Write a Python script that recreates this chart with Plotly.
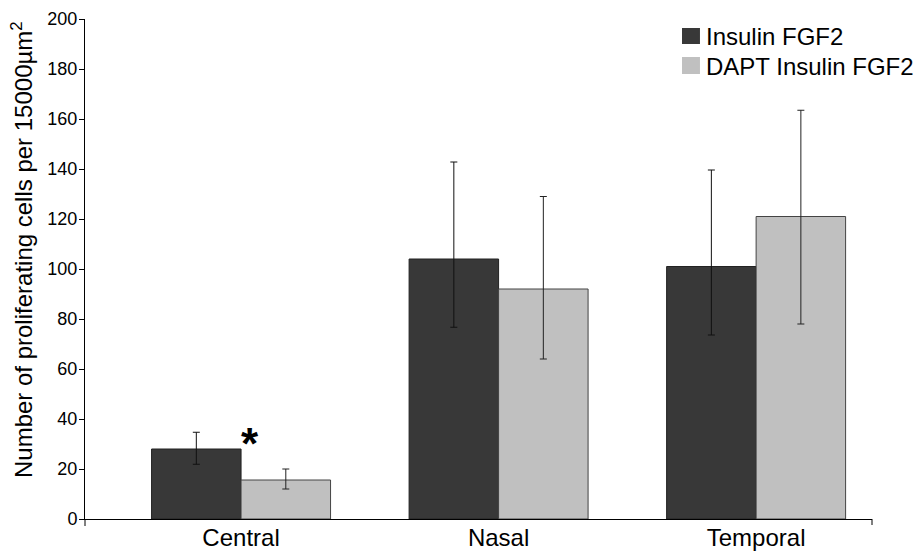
import plotly.graph_objects as go

categories = ["Central", "Nasal", "Temporal"]
series_names = ["Insulin FGF2", "DAPT Insulin FGF2"]
series_colors = ["#383838", "#c0c0c0"]
insulin = [28, 104, 101]
insulin_err_plus = [6.7, 38.8, 38.6]
insulin_err_minus = [6.1, 27.3, 27.4]
dapt = [15.6, 92, 121]
dapt_err_plus = [4.4, 37, 42.5]
dapt_err_minus = [3.6, 28, 43]
y_ticks = [0, 20, 40, 60, 80, 100, 120, 140, 160, 180, 200]
y_title = "Number of proliferating cells per 15000µm<sup>2</sup>"

x_idx = list(range(len(categories)))

fig = go.Figure()
fig.add_trace(go.Bar(
    x=x_idx, y=insulin, name=series_names[0],
    marker=dict(color=series_colors[0], line=dict(color="#222222", width=1)),
    error_y=dict(type="data", symmetric=False, array=insulin_err_plus,
                 arrayminus=insulin_err_minus, color="#111111", thickness=1, width=3.5),
))
fig.add_trace(go.Bar(
    x=x_idx, y=dapt, name=series_names[1],
    marker=dict(color=series_colors[1], line=dict(color="#444444", width=1)),
    error_y=dict(type="data", symmetric=False, array=dapt_err_plus,
                 arrayminus=dapt_err_minus, color="#222222", thickness=1, width=3.5),
))

fig.add_annotation(x=0.035, y=30.3, text="<b>*</b>", showarrow=False,
                   font=dict(size=44, color="black", family="Liberation Sans"),
                   xanchor="center", yanchor="middle")

# Y-axis title as rotated text (positioned like the original, slightly above centre)
fig.add_annotation(xref="paper", yref="paper", x=-0.080, y=0.538, text=y_title,
                   textangle=-90, showarrow=False, xanchor="center", yanchor="middle",
                   font=dict(size=24, color="black"))

# Legend drawn as swatches + text (larger swatches than plotly's built-in legend)
legend_rows = [(0.95, 0.982, 0.965), (0.89, 0.924, 0.905)]
for (y0, y1, yt), name, col in zip(legend_rows, series_names, series_colors):
    fig.add_shape(type="rect", xref="paper", yref="paper",
                  x0=0.7586, x1=0.7814, y0=y0, y1=y1,
                  fillcolor=col, line=dict(color=col, width=0))
    fig.add_annotation(xref="paper", yref="paper", x=0.786, y=yt, text=name,
                       showarrow=False, xanchor="left", yanchor="middle",
                       font=dict(size=24, color="black"))

# Excel-style axis stubs: y axis extends slightly below 0, end tick at right of x axis
fig.add_shape(type="line", xref="paper", yref="paper", x0=0, x1=0, y0=0, y1=-0.014,
              line=dict(color="black", width=1))
fig.add_shape(type="line", xref="paper", yref="paper", x0=1, x1=1, y0=0, y1=-0.012,
              line=dict(color="black", width=1))

fig.update_layout(
    width=913, height=551,
    margin=dict(l=85, r=41, t=19, b=32, autoexpand=False),
    paper_bgcolor="white", plot_bgcolor="white",
    font=dict(family="Liberation Sans, Arial, sans-serif", color="black"),
    barmode="group", bargap=0.305, bargroupgap=0,
    showlegend=False,
    xaxis=dict(
        tickmode="array", tickvals=x_idx, ticktext=categories,
        range=[-0.606, 2.45], showline=True, linecolor="black", linewidth=1,
        ticks="", tickfont=dict(size=24), showgrid=False, zeroline=False,
        automargin=False, ticklabelstandoff=-3,
    ),
    yaxis=dict(
        range=[0, 200], tickvals=y_ticks, showline=True, linecolor="black",
        linewidth=1, ticks="outside", ticklen=5, tickcolor="black",
        tickfont=dict(size=18), showgrid=False, zeroline=False, automargin=False,
        ticklabelstandoff=-2,
    ),
)

# Remove the default 8px page margin so the figure fills the window exactly.
fig.write_html("out.html", config={"displayModeBar": False},
               post_script="document.body.style.margin='0';document.body.style.overflow='hidden';")
